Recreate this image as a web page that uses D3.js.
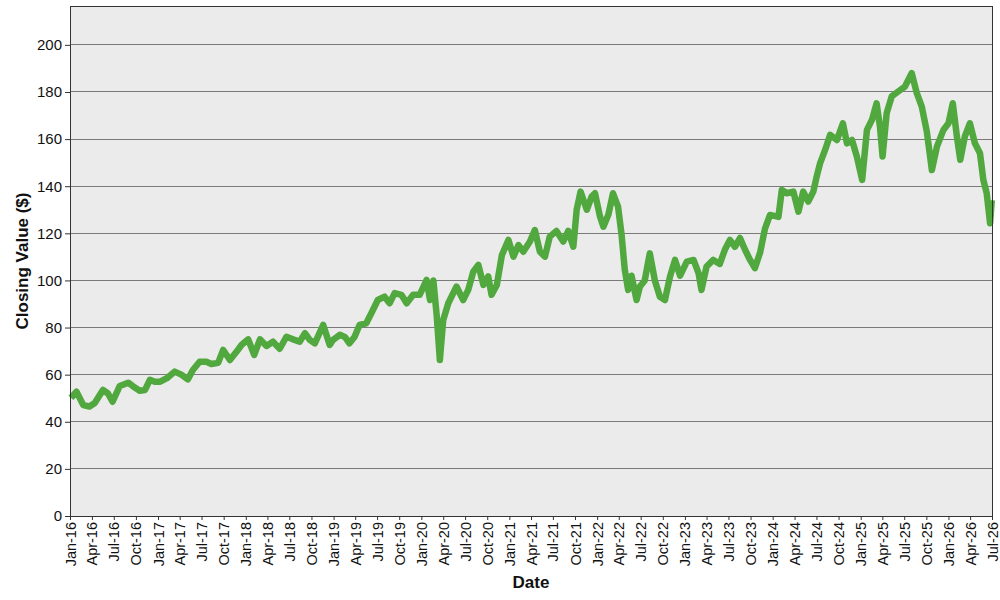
<!DOCTYPE html>
<html>
<head>
<meta charset="utf-8">
<script src="https://cdn.jsdelivr.net/npm/d3@7"></script>
<style>
  body { margin: 0; background: #fff; }
  svg { display: block; font-family: "Liberation Sans", Arial, sans-serif; }
</style>
</head>
<body>
<svg id="chart" width="1000" height="600"></svg>
<script>
const dates = [
"2016-01-05","2016-01-28","2016-02-25","2016-03-22","2016-04-13","2016-05-17","2016-06-07","2016-06-26",
"2016-07-26","2016-08-30","2016-09-20","2016-10-17","2016-11-08","2016-11-28","2016-12-19",
"2017-01-10","2017-02-07","2017-03-11","2017-04-08","2017-05-05","2017-05-26","2017-06-23","2017-07-21",
"2017-08-11","2017-09-08","2017-09-29","2017-10-27","2017-11-24","2017-12-14",
"2018-01-11","2018-02-05","2018-03-01","2018-03-28","2018-04-24","2018-05-22","2018-06-19","2018-07-16",
"2018-08-13","2018-09-04","2018-09-24","2018-10-15","2018-11-19","2018-12-16","2018-12-30",
"2019-01-27","2019-02-17","2019-03-08","2019-03-29","2019-04-19","2019-05-17","2019-06-07","2019-07-04",
"2019-08-01","2019-08-22","2019-09-12","2019-10-10","2019-11-01","2019-11-28","2019-12-25",
"2020-01-23","2020-02-06","2020-02-20","2020-03-05","2020-03-18","2020-04-01","2020-04-22","2020-05-26",
"2020-06-23","2020-07-14","2020-08-04","2020-08-25","2020-09-15","2020-10-05","2020-10-19","2020-11-10",
"2020-12-01","2020-12-28",
"2021-01-18","2021-02-08","2021-02-28","2021-03-27","2021-04-17","2021-05-08","2021-05-29","2021-06-18",
"2021-07-16","2021-08-13","2021-09-03","2021-09-24","2021-10-08","2021-10-24","2021-11-19","2021-12-09",
"2021-12-23",
"2022-01-13","2022-01-27","2022-02-17","2022-03-08","2022-03-29","2022-04-12","2022-04-26","2022-05-10",
"2022-05-24","2022-06-14","2022-06-28","2022-07-18","2022-08-08","2022-08-29","2022-09-19","2022-10-10",
"2022-10-31","2022-11-21","2022-12-12",
"2023-01-09","2023-02-06","2023-02-27","2023-03-11","2023-04-01","2023-04-29","2023-05-26","2023-06-16",
"2023-07-07","2023-07-28","2023-08-18","2023-09-08","2023-09-29","2023-10-19","2023-11-10","2023-11-30",
"2023-12-21",
"2024-01-25","2024-02-08","2024-02-29","2024-03-27","2024-04-17","2024-05-07","2024-05-28","2024-06-18",
"2024-07-02","2024-07-16","2024-08-06","2024-08-27","2024-09-24","2024-10-19","2024-11-05","2024-11-26",
"2024-12-16",
"2025-01-07","2025-01-27","2025-02-17","2025-03-08","2025-03-22","2025-04-02","2025-04-19","2025-05-10",
"2025-06-06","2025-07-04","2025-08-01","2025-08-22","2025-09-12","2025-10-03","2025-10-24","2025-11-14",
"2025-12-11",
"2026-01-01","2026-01-19","2026-02-05","2026-02-19","2026-03-10","2026-03-31","2026-04-21","2026-05-12",
"2026-05-26","2026-06-09","2026-06-23","2026-06-30"
];
const closingValues = [
50.1,52.8,47.1,46.5,48.0,53.5,52.0,48.5,
55.2,56.6,55.0,53.2,53.5,57.8,57.0,
57.0,58.5,61.3,60.0,58.0,62.0,65.5,65.5,
64.5,65.0,70.5,66.2,69.8,72.6,
75.0,68.4,75.0,72.2,74.0,71.0,76.1,75.0,
74.0,77.6,74.8,73.3,81.1,72.6,74.8,
76.9,76.0,73.3,76.0,81.1,81.8,86.1,91.7,
93.1,90.3,94.6,93.9,90.3,93.9,93.9,
100.2,91.7,100.0,85.0,66.2,83.2,90.3,97.4,
91.7,96.0,103.7,106.6,98.1,101.7,93.9,98.1,
110.8,117.2,
110.1,115.0,112.2,116.4,121.4,112.2,110.1,118.6,
121.0,116.5,121.0,114.3,130.0,137.7,130.0,135.6,
137.0,
127.1,122.8,128.0,137.0,131.3,120.0,104.5,96.0,
102.0,91.7,97.4,100.0,111.5,100.0,93.1,91.7,
101.6,108.7,102.0,
108.0,108.7,103.0,96.0,105.9,108.7,107.0,113.0,
117.2,114.3,118.0,113.0,108.7,105.2,112.0,122.0,
127.8,
127.0,138.4,137.0,137.7,129.2,137.7,133.5,137.7,
144.1,149.7,155.4,161.8,159.6,166.7,158.2,159.6,
152.6,
142.7,163.9,168.2,175.2,165.4,152.6,171.0,178.1,
180.2,182.3,188.0,179.6,173.8,163.2,146.9,156.8,
163.9,
166.7,175.2,161.1,151.2,161.1,166.7,158.2,154.0,
142.7,137.0,124.3,134.0
];
const yTicks = [0,20,40,60,80,100,120,140,160,180,200];
const xTickLabelFormat = "%b-%y";

const W = 1000, H = 600;
const margin = {left: 70, top: 6, right: 8, bottom: 84};
const iw = W - margin.left - margin.right;
const ih = H - margin.top - margin.bottom;

const parse = d3.timeParse("%Y-%m-%d");
const data = dates.map((d, i) => ({date: parse(d), value: closingValues[i]}));

const svg = d3.select("#chart");
const g = svg.append("g").attr("transform", `translate(${margin.left},${margin.top})`);

const x = d3.scaleTime()
  .domain([new Date(2016, 0, 1), new Date(2026, 6, 1)])
  .range([0, iw]);
const y = d3.scaleLinear().domain([0, 216.5]).range([ih, 0]);

g.append("rect").attr("width", iw).attr("height", ih).attr("fill", "#ebebeb");

// gridlines
g.append("g").selectAll("line").data(yTicks.filter(t => t > 0)).join("line")
  .attr("x1", 0).attr("x2", iw)
  .attr("y1", d => y(d)).attr("y2", d => y(d))
  .attr("stroke", "#7a7a7a").attr("stroke-width", 1).attr("shape-rendering", "crispEdges");

// line
const line = d3.line().x(d => x(d.date)).y(d => y(d.value)).curve(d3.curveLinear);
g.append("path").datum(data)
  .attr("d", line)
  .attr("fill", "none")
  .attr("stroke", "#50a83e")
  .attr("stroke-width", 6.5)
  .attr("stroke-linejoin", "round")
  .attr("stroke-linecap", "butt");

// border
g.append("rect").attr("width", iw).attr("height", ih)
  .attr("fill", "none").attr("stroke", "#333").attr("stroke-width", 1)
  .attr("shape-rendering", "crispEdges");

// y axis
const yAxis = g.append("g")
  .call(d3.axisLeft(y).tickValues(yTicks).tickSize(5).tickPadding(3).tickFormat(d3.format("d")));
yAxis.select(".domain").remove();
yAxis.selectAll("line").attr("stroke", "#333");
yAxis.selectAll("text").attr("font-size", "15px").attr("fill", "#111")
  .attr("font-family", '"Liberation Sans", Arial, sans-serif');

// x axis
const xTicks = d3.timeMonth.every(3).range(new Date(2016, 0, 1), new Date(2026, 6, 2));
const xAxis = g.append("g").attr("transform", `translate(0,${ih})`)
  .call(d3.axisBottom(x).tickValues(xTicks).tickSize(4).tickFormat(d3.timeFormat(xTickLabelFormat)));
xAxis.select(".domain").remove();
xAxis.selectAll("line").attr("stroke", "#333");
xAxis.selectAll("text")
  .attr("font-size", "14.5px").attr("fill", "#111")
  .attr("font-family", '"Liberation Sans", Arial, sans-serif')
  .attr("text-anchor", "end")
  .attr("transform", "rotate(-90)")
  .attr("x", -6).attr("y", 0).attr("dy", "0.35em");

// axis titles
svg.append("text")
  .attr("x", margin.left + iw / 2).attr("y", 588)
  .attr("text-anchor", "middle")
  .attr("font-size", "17px").attr("font-weight", "bold").attr("fill", "#111")
  .text("Date");
svg.append("text")
  .attr("transform", `translate(28,${margin.top + ih / 2}) rotate(-90)`)
  .attr("text-anchor", "middle")
  .attr("font-size", "17px").attr("font-weight", "bold").attr("fill", "#111")
  .text("Closing Value ($)");
</script>
</body>
</html>
